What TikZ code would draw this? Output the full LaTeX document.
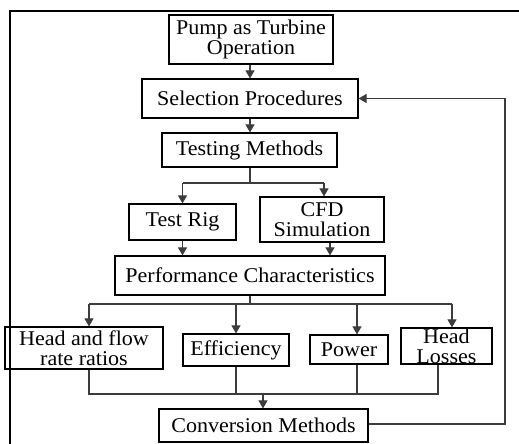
\documentclass[tikz,border=0pt]{standalone}
\usepackage{fontspec}
\setmainfont[FakeStretch=1.05]{Liberation Serif}
\usetikzlibrary{arrows.meta}
\definecolor{linkgray}{HTML}{3C3C3C}
\tikzset{
  box/.style={draw=black, line width=1.2pt, rectangle, inner sep=0pt, align=center,
    font=\fontsize{21}{20}\selectfont},
  link/.style={draw=linkgray, line width=1.1pt},
  arr/.style={link, -{Triangle[length=8pt,width=9pt,fill=linkgray]}},
}
\begin{document}
\begin{tikzpicture}[x=1pt,y=-1pt]
\useasboundingbox (0,0) rectangle (519,444);
% outer frame (top and left edges)
\draw[line width=1.2pt] (10,444) -- (10,11) -- (519,11);

% boxes
\node[box, minimum width=164pt, minimum height=49pt] (pump) at (251,39.5) {Pump as Turbine\\Operation};
\node[box, minimum width=216pt, minimum height=39pt] (sel) at (250,98.5) {Selection Procedures};
\node[box, minimum width=175pt, minimum height=34pt] (test) at (249.5,150) {Testing Methods};
\node[box, minimum width=107pt, minimum height=36pt] (rig) at (182.5,222) {Test Rig};
\node[box, minimum width=124pt, minimum height=45pt] (cfd) at (322,219.5) {CFD\\Simulation};
\node[box, minimum width=270pt, minimum height=39pt] (perf) at (250,275.5) {Performance Characteristics};
\node[box, minimum width=158pt, minimum height=42pt] (hf) at (84,348) {Head and flow\\rate ratios};
\node[box, minimum width=106pt, minimum height=32pt] (eff) at (236,350) {Efficiency};
\node[box, minimum width=78pt, minimum height=29pt] (pow) at (349,349.5) {Power};
\node[box, minimum width=91pt, minimum height=36pt] (hl) at (446.5,346) {Head\\Losses};
\node[box, minimum width=209pt, minimum height=33pt] (conv) at (263.5,425.5) {Conversion Methods};

% junction levels
\coordinate (j1) at (250,183);
\coordinate (j2) at (250,304);
\coordinate (j3) at (263,394);
\coordinate (loop) at (505,424);

% attachment points on the boxes
\coordinate (cfdin)  at ([xshift=2pt]cfd.north);
\coordinate (cfdout) at ([xshift=8pt]cfd.south);
\coordinate (hfin)   at ([xshift=5pt]hf.north);
\coordinate (hfout)  at ([xshift=5pt]hf.south);
\coordinate (powin)  at ([xshift=8pt]pow.north);
\coordinate (powout) at ([xshift=8pt]pow.south);
\coordinate (hlin)   at ([xshift=5.5pt]hl.north);
\coordinate (hlout)  at ([xshift=-8.5pt]hl.south);

% top chain
\draw[arr] ([xshift=-1pt]pump.south) -- (sel.north);
\draw[arr] (sel.south) -- ([xshift=0.5pt]test.north);

% testing methods split
\draw[link] ([xshift=0.5pt]test.south) -- (j1);
\draw[link] (j1 -| rig.north) -- (j1 -| cfdin);
\draw[arr] (j1 -| rig.north) -- (rig.north);
\draw[arr] (j1 -| cfdin) -- (cfdin);

% merge into performance
\draw[arr] (rig.south) -- (rig.south |- perf.north);
\draw[arr] (cfdout) -- (cfdout |- perf.north);

% performance split
\draw[link] (perf.south) -- (j2);
\draw[link] (j2 -| hfin) -- (j2 -| hlin);
\draw[arr] (j2 -| hfin) -- (hfin);
\draw[arr] (j2 -| eff.north) -- (eff.north);
\draw[arr] (j2 -| powin) -- (powin);
\draw[arr] (j2 -| hlin) -- (hlin);

% merge into conversion
\draw[link] (hfout) -- (hfout |- j3) -- (hlout |- j3) -- (hlout);
\draw[link] (eff.south) -- (eff.south |- j3);
\draw[link] (powout) -- (powout |- j3);
\draw[arr] (j3) -- (j3 |- conv.north);

% feedback loop
\draw[arr] (conv.east |- loop) -- (loop) -- (loop |- sel.east) -- (sel.east);
\end{tikzpicture}
\end{document}
